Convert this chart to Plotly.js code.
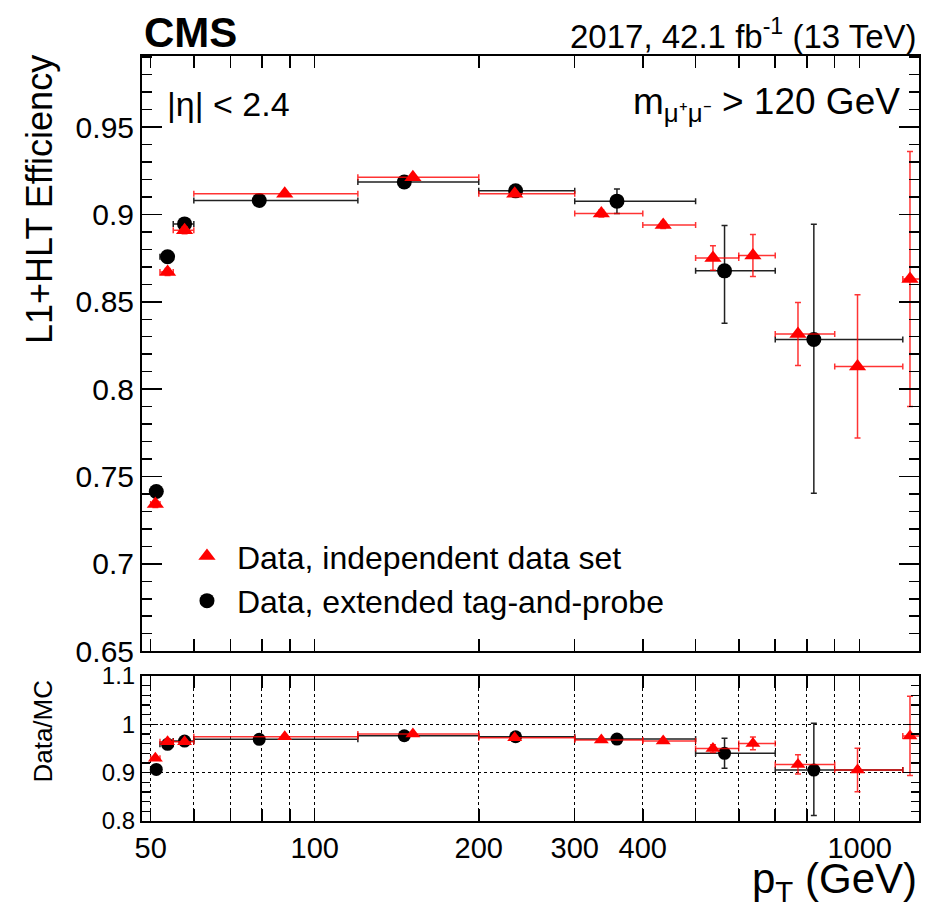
<!DOCTYPE html>
<html>
<head>
<meta charset="utf-8">
<script src="https://cdn.plot.ly/plotly-3.0.1.min.js"></script>
<style>html,body{margin:0;padding:0;background:#fff;}#chart{width:925px;height:917px;}</style>
</head>
<body>
<div id="chart"></div>
<script>
// ---- Data: independent data set (red triangles) ----
const indepPt   = [51.0, 53.7, 57.7, 88.1, 151.4, 232.8, 335.7, 436, 538, 637, 770.6, 991, 1237];
const indepLow  = [50, 52, 55, 60, 120, 200, 300, 400, 500, 600, 700, 900, 1200];
const indepHigh = [52, 55, 60, 120, 200, 300, 400, 500, 600, 700, 900, 1200, 1500];
const indepEff  = [0.7343, 0.867, 0.891, 0.9118, 0.9213, 0.9118, 0.9006, 0.8939, 0.8751, 0.8765, 0.8316, 0.813, 0.8631];
const indepEffErr = [0.002, 0.002, 0.002, 0.001, 0.001, 0.001, 0.002, 0.002, 0.007, 0.012, 0.018, 0.041, 0.073];
const indepRatio  = [0.9296, 0.964, 0.964, 0.9744, 0.980, 0.9723, 0.9675, 0.9654, 0.950, 0.9606, 0.917, 0.9054, 0.976];
const indepRatioErr = [0.003, 0.003, 0.003, 0.002, 0.002, 0.002, 0.002, 0.003, 0.008, 0.013, 0.020, 0.045, 0.082];

// ---- Data: extended tag-and-probe (black circles) ----
const tnpPt   = [51.2, 53.7, 57.7, 79.1, 146, 233.7, 358.6, 565, 824];
const tnpLow  = [50, 52, 55, 60, 120, 200, 300, 500, 700];
const tnpHigh = [52, 55, 60, 120, 200, 300, 500, 700, 1200];
const tnpEff  = [0.7414, 0.8758, 0.8946, 0.908, 0.9186, 0.9135, 0.9076, 0.8677, 0.8284];
const tnpEffErrUp = [0.002, 0.002, 0.002, 0.001, 0.001, 0.001, 0.007, 0.026, 0.066];
const tnpEffErrDn = [0.002, 0.002, 0.002, 0.001, 0.001, 0.001, 0.007, 0.030, 0.088];
const tnpRatio  = [0.9068, 0.9586, 0.9654, 0.969, 0.9764, 0.9744, 0.9696, 0.940, 0.9054];
const tnpRatioErrUp = [0.003, 0.003, 0.003, 0.002, 0.002, 0.002, 0.008, 0.031, 0.097];
const tnpRatioErrDn = [0.003, 0.003, 0.003, 0.002, 0.002, 0.002, 0.008, 0.031, 0.094];

// ---- Axis ticks ----
const xTickVals = [50, 60, 70, 80, 90, 100, 200, 300, 400, 500, 600, 700, 800, 900, 1000];
const xTickText = ['50', '', '', '', '', '100', '200', '300', '400', '', '', '', '', '', '1000'];
const effTickVals = [0.65, 0.7, 0.75, 0.8, 0.85, 0.9, 0.95];
const effTickText = ['0.65', '0.7', '0.75', '0.8', '0.85', '0.9', '0.95'];
const ratioTickVals = [0.8, 0.9, 1.0, 1.1];
const ratioTickText = ['0.8', '0.9', '1', '1.1'];

const FONT = 'Liberation Sans, Arial, Helvetica, sans-serif';
const RED = '#ff0000';
const RED_BAR = 'rgba(255,0,0,0.8)';
const BLK = '#000000';
const BLK_BAR = '#222222';

const minus = (a, b) => a.map((v, i) => v - b[i]);

function errX(pt, lo, hi, color) {
  return {type: 'data', symmetric: false, array: minus(hi, pt), arrayminus: minus(pt, lo),
          color: color, thickness: 1.5, width: 3};
}
function errY(up, dn, color) {
  return {type: 'data', symmetric: false, array: up, arrayminus: dn, color: color, thickness: 1.5, width: 3};
}

const traces = [
  {x: tnpPt, y: tnpEff, type: 'scatter', mode: 'markers', name: 'Data, extended tag-and-probe',
   marker: {symbol: 'circle', size: 15, color: BLK}, legendrank: 2,
   error_x: errX(tnpPt, tnpLow, tnpHigh, BLK_BAR), error_y: errY(tnpEffErrUp, tnpEffErrDn, BLK_BAR),
   xaxis: 'x', yaxis: 'y'},
  {x: indepPt, y: indepEff, type: 'scatter', mode: 'markers', name: 'Data, independent data set',
   marker: {symbol: 'triangle-up', size: 15, color: RED}, legendrank: 1,
   error_x: errX(indepPt, indepLow, indepHigh, RED_BAR), error_y: errY(indepEffErr, indepEffErr, RED_BAR),
   xaxis: 'x', yaxis: 'y'},
  {x: tnpPt, y: tnpRatio, type: 'scatter', mode: 'markers', showlegend: false,
   marker: {symbol: 'circle', size: 13, color: BLK},
   error_x: errX(tnpPt, tnpLow, tnpHigh, BLK_BAR), error_y: errY(tnpRatioErrUp, tnpRatioErrDn, BLK_BAR),
   xaxis: 'x2', yaxis: 'y2'},
  {x: indepPt, y: indepRatio, type: 'scatter', mode: 'markers', showlegend: false,
   marker: {symbol: 'triangle-up', size: 13, color: RED},
   error_x: errX(indepPt, indepLow, indepHigh, RED_BAR), error_y: errY(indepRatioErr, indepRatioErr, RED_BAR),
   xaxis: 'x2', yaxis: 'y2'}
];

const xRange = [Math.log10(48.2), Math.log10(1285)];
const axCommon = {showline: true, linecolor: '#000', linewidth: 2, mirror: 'allticks',
                  ticks: 'inside', tickcolor: '#000', tickwidth: 1.5, zeroline: false};

const layout = {
  width: 925, height: 917,
  margin: {l: 142, r: 6, t: 56, b: 96},
  paper_bgcolor: '#fff', plot_bgcolor: '#fff',
  font: {family: FONT, color: '#000'},
  showlegend: true,
  legend: {x: 0.045, y: 0.382, xanchor: 'left', yanchor: 'top', bgcolor: 'rgba(0,0,0,0)',
           font: {family: FONT, size: 32, color: '#000'}, tracegroupgap: 0, itemwidth: 50},
  xaxis: Object.assign({}, axCommon, {type: 'log', range: xRange, anchor: 'y', domain: [0, 1],
           tickmode: 'array', tickvals: xTickVals, ticktext: xTickText, showticklabels: false,
           ticklen: 12, showgrid: false}),
  yaxis: Object.assign({}, axCommon, {domain: [0.222, 1], range: [0.65, 0.9907], anchor: 'x',
           tickmode: 'array', tickvals: effTickVals, ticktext: effTickText, ticklen: 20,
           tickfont: {family: FONT, size: 30}, showgrid: false,
           minor: {dtick: 0.01, ticks: 'inside', ticklen: 10, tickcolor: '#000', tickwidth: 1.5, showgrid: false}}),
  xaxis2: Object.assign({}, axCommon, {type: 'log', range: xRange, anchor: 'y2', domain: [0, 1],
           matches: 'x', tickmode: 'array', tickvals: xTickVals, ticktext: xTickText, ticklen: 12,
           tickfont: {family: FONT, size: 29}, tickangle: 0,
           showgrid: true, gridcolor: '#000', griddash: 'dot', gridwidth: 1}),
  yaxis2: Object.assign({}, axCommon, {domain: [0, 0.1895], range: [0.8, 1.1], anchor: 'x2',
           tickmode: 'array', tickvals: ratioTickVals, ticktext: ratioTickText, ticklen: 16,
           tickfont: {family: FONT, size: 24},
           showgrid: true, gridcolor: '#000', griddash: 'dot', gridwidth: 1,
           minor: {dtick: 0.02, ticks: 'inside', ticklen: 8, tickcolor: '#000', tickwidth: 1.5, showgrid: false}}),
  annotations: [
    {text: '<b>CMS</b>', xref: 'paper', yref: 'paper', x: 0, y: 1.031, xanchor: 'left', yanchor: 'middle',
     showarrow: false, font: {family: FONT, size: 42}},
    {text: '2017, 42.1 fb<sup>-1</sup> (13 TeV)', xref: 'paper', yref: 'paper', x: 1.0, y: 1.029,
     xanchor: 'right', yanchor: 'middle', showarrow: false, font: {family: FONT, size: 33}},
    {text: '|η| < 2.4', xref: 'paper', yref: 'paper', x: 0.03, y: 0.9373, xanchor: 'left', yanchor: 'middle',
     showarrow: false, font: {family: FONT, size: 34}},
    {text: 'm<sub>μ⁺μ⁻</sub> > 120 GeV', xref: 'paper', yref: 'paper', x: 0.978, y: 0.9373,
     xanchor: 'right', yanchor: 'middle', showarrow: false, font: {family: FONT, size: 37}},
    {text: 'L1+HLT Efficiency', xref: 'paper', yref: 'paper', x: -0.131, y: 0.812, xanchor: 'center',
     yanchor: 'middle', textangle: -90, showarrow: false, font: {family: FONT, size: 36}},
    {text: 'Data/MC', xref: 'paper', yref: 'paper', x: -0.128, y: 0.1176, xanchor: 'center',
     yanchor: 'middle', textangle: -90, showarrow: false, font: {family: FONT, size: 26}},
    {text: 'p<sub>T</sub> (GeV)', xref: 'paper', yref: 'paper', x: 1.0, y: -0.079, xanchor: 'right',
     yanchor: 'middle', showarrow: false, font: {family: FONT, size: 42}}
  ]
};

Plotly.newPlot('chart', traces, layout, {staticPlot: true, displayModeBar: false});
</script>
</body>
</html>
